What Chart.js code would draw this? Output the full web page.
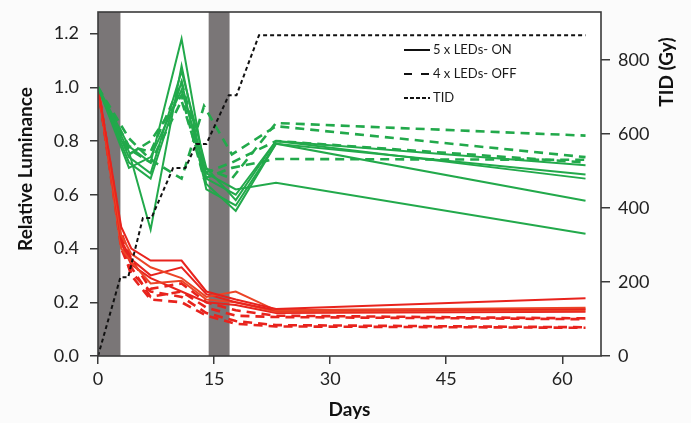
<!DOCTYPE html>
<html>
<head>
<meta charset="utf-8">
<script src="https://cdn.jsdelivr.net/npm/chart.js@4.4.1/dist/chart.umd.min.js"></script>
<style>
  html, body { margin: 0; padding: 0; background: #fbfbfb; }
  #wrap { width: 691px; height: 423px; position: relative; }
</style>
</head>
<body>
<div id="wrap"><canvas id="chart"></canvas></div>
<script>
// measurement days
const greenOnDays = [0, 4, 6.8, 10.8, 14, 17.8, 23, 63];
const greenOffDays = [0, 4, 6.8, 10.8, 13.7, 17.3, 23, 63];
const redDays = [0, 3, 4.3, 6.8, 10.8, 14, 17.8, 23, 63];

// green, 5 x LEDs ON (solid)
const greenOn1 = [1.0, 0.78, 0.72, 1.18, 0.66, 0.60, 0.80, 0.71];
const greenOn2 = [1.0, 0.76, 0.47, 1.08, 0.64, 0.54, 0.79, 0.675];
const greenOn3 = [1.0, 0.74, 0.68, 1.06, 0.70, 0.58, 0.80, 0.66];
const greenOn4 = [1.0, 0.72, 0.66, 1.02, 0.62, 0.56, 0.79, 0.578];
const greenOn5 = [1.0, 0.70, 0.74, 0.99, 0.68, 0.62, 0.645, 0.455];

// green, 4 x LEDs OFF (dashed)
const greenOff1 = [1.0, 0.81, 0.73, 0.66, 0.93, 0.75, 0.855, 0.74];
const greenOff2 = [1.0, 0.78, 0.76, 1.02, 0.70, 0.66, 0.867, 0.82];
const greenOff3 = [1.0, 0.75, 0.80, 0.97, 0.66, 0.70, 0.733, 0.73];
const greenOff4 = [1.0, 0.77, 0.72, 0.95, 0.68, 0.72, 0.80, 0.72];

// red, 5 x LEDs ON (solid)
const redOn1 = [1.0, 0.48, 0.40, 0.355, 0.355, 0.24, 0.21, 0.175, 0.215];
const redOn2 = [1.0, 0.45, 0.38, 0.33, 0.29, 0.22, 0.24, 0.17, 0.18];
const redOn3 = [1.0, 0.43, 0.36, 0.30, 0.33, 0.23, 0.20, 0.17, 0.175];
const redOn4 = [1.0, 0.40, 0.35, 0.27, 0.28, 0.21, 0.20, 0.165, 0.17];
const redOn5 = [1.0, 0.42, 0.34, 0.29, 0.24, 0.20, 0.19, 0.16, 0.165];

// red, 4 x LEDs OFF (dashed)
const redOff1 = [1.0, 0.46, 0.36, 0.25, 0.27, 0.20, 0.17, 0.15, 0.14];
const redOff2 = [1.0, 0.44, 0.33, 0.22, 0.24, 0.18, 0.15, 0.145, 0.137];
const redOff3 = [1.0, 0.40, 0.31, 0.24, 0.22, 0.16, 0.13, 0.115, 0.107];
const redOff4 = [1.0, 0.42, 0.30, 0.21, 0.20, 0.15, 0.12, 0.11, 0.105];

// total ionising dose (right axis)
const tidDays = [0, 2.9, 3.9, 5.8, 6.9, 9.7, 11.3, 12.7, 14.0, 16.9, 17.9, 20.8, 63];
const tidValues = [0, 213, 213, 373, 373, 508, 508, 573, 573, 705, 705, 867, 867];

// shaded periods (days)
const bandStarts = [0, 14.3];
const bandEnds = [2.9, 17.0];

// axis ticks
const xTicks = [0, 15, 30, 45, 60];
const lumTicks = [0, 0.2, 0.4, 0.6, 0.8, 1.0, 1.2];
const tidTicks = [0, 200, 400, 600, 800];

const legendLabels = ['5 x LEDs- ON', '4 x LEDs- OFF', 'TID'];

const GREEN = '#22a94b';
const RED = '#e8231d';
const RED2 = '#eb4427';
const FONT = 'Lato, "Open Sans", sans-serif';

function pairs(days, vals) {
  return days.map((d, i) => ({ x: d, y: vals[i] }));
}

function series(days, vals, color, dashed) {
  return {
    data: pairs(days, vals),
    borderColor: color,
    borderWidth: dashed ? 2.6 : 2,
    borderDash: dashed ? [9, 6] : [],
    pointRadius: 0,
    tension: 0,
    fill: false,
    yAxisID: 'y'
  };
}

const datasets = [
  {
    data: pairs(tidDays, tidValues),
    borderColor: '#111',
    borderWidth: 2,
    borderDash: [4, 3],
    pointRadius: 0,
    tension: 0,
    fill: false,
    yAxisID: 'y2'
  },
  series(greenOnDays, greenOn1, GREEN, false),
  series(greenOnDays, greenOn2, GREEN, false),
  series(greenOnDays, greenOn3, GREEN, false),
  series(greenOnDays, greenOn4, GREEN, false),
  series(greenOnDays, greenOn5, GREEN, false),
  series(greenOffDays, greenOff1, GREEN, true),
  series(greenOffDays, greenOff2, GREEN, true),
  series(greenOffDays, greenOff3, GREEN, true),
  series(greenOffDays, greenOff4, GREEN, true),
  series(redDays, redOn1, RED, false),
  series(redDays, redOn2, RED2, false),
  series(redDays, redOn3, RED, false),
  series(redDays, redOn4, RED2, false),
  series(redDays, redOn5, RED, false),
  series(redDays, redOff1, RED, true),
  series(redDays, redOff2, RED, true),
  series(redDays, redOff3, RED, true),
  series(redDays, redOff4, RED, true)
];

function verticalTitle(ctx, text, x, y) {
  ctx.save();
  ctx.translate(x, y);
  ctx.rotate(-Math.PI / 2);
  ctx.font = 'bold 19px ' + FONT;
  ctx.fillStyle = '#111';
  ctx.textAlign = 'center';
  ctx.textBaseline = 'middle';
  ctx.fillText(text, 0, 0);
  ctx.restore();
}

// white plot area, grey bands, frame, legend and vertical titles
const decor = {
  id: 'decor',
  beforeDraw(chart) {
    const { ctx, chartArea: a } = chart;
    ctx.save();
    ctx.fillStyle = '#ffffff';
    ctx.fillRect(a.left, a.top, a.right - a.left, a.bottom - a.top);
    ctx.restore();
  },
  beforeDatasetsDraw(chart) {
    const { ctx, chartArea: a, scales: { x } } = chart;
    ctx.save();
    ctx.fillStyle = '#7a7677';
    bandStarts.forEach((s, i) => {
      const x0 = x.getPixelForValue(s);
      const x1 = x.getPixelForValue(bandEnds[i]);
      ctx.fillRect(x0, a.top, x1 - x0, a.bottom - a.top);
    });
    ctx.restore();
  },
  afterDatasetsDraw(chart) {
    const { ctx, chartArea: a } = chart;
    ctx.save();
    ctx.strokeStyle = '#3a3a3a';
    ctx.lineWidth = 1.6;
    ctx.strokeRect(a.left, a.top, a.right - a.left, a.bottom - a.top);

    // legend
    const lx = 404, tx = 433;
    const ys = [50, 74, 98];
    const dashes = [[], [8, 9], [4, 2]];
    ctx.strokeStyle = '#111';
    ctx.lineWidth = 2;
    ctx.font = '13px ' + FONT;
    ctx.fillStyle = '#1a1a1a';
    ctx.textBaseline = 'middle';
    legendLabels.forEach((lab, i) => {
      ctx.setLineDash(dashes[i]);
      ctx.beginPath();
      ctx.moveTo(lx, ys[i]);
      ctx.lineTo(tx - 3, ys[i]);
      ctx.stroke();
      ctx.fillText(lab, tx, ys[i]);
    });
    ctx.setLineDash([]);
    ctx.restore();

    verticalTitle(ctx, 'Relative Luminance', 26, 169);
    verticalTitle(ctx, 'TID (Gy)', 667, 72);
  }
};

const tickFont = { family: FONT, size: 18 };
const titleFont = { family: FONT, size: 19, weight: 'bold' };

new Chart(document.getElementById('chart'), {
  type: 'line',
  data: { datasets: datasets },
  options: {
    responsive: true,
    maintainAspectRatio: false,
    animation: false,
    layout: { padding: { top: 12, left: 0, right: 0, bottom: 0 } },
    plugins: { legend: { display: false }, tooltip: { enabled: false } },
    scales: {
      x: {
        type: 'linear',
        min: 0,
        max: 65,
        afterBuildTicks: s => { s.ticks = xTicks.map(v => ({ value: v })); },
        afterFit: s => { s.height = 67; s.paddingLeft = 0; s.paddingRight = 0; },
        grid: { drawOnChartArea: false, drawTicks: true, tickLength: 8, color: '#3a3a3a', lineWidth: 1.5 },
        border: { display: false },
        ticks: { font: tickFont, color: '#222', padding: 4, maxRotation: 0 },
        title: { display: true, text: 'Days', font: titleFont, color: '#111', padding: { top: 0, bottom: 2 } }
      },
      y: {
        position: 'left',
        min: 0,
        max: 1.28,
        afterBuildTicks: s => { s.ticks = lumTicks.map(v => ({ value: v })); },
        afterFit: s => { s.width = 98; s.paddingTop = 0; s.paddingBottom = 0; },
        grid: { drawOnChartArea: false, drawTicks: true, tickLength: 8, color: '#3a3a3a', lineWidth: 1.5 },
        border: { display: false },
        ticks: { font: tickFont, color: '#222', padding: 11, callback: v => v.toFixed(1) },
        title: { display: false }
      },
      y2: {
        position: 'right',
        min: 0,
        max: 930,
        afterBuildTicks: s => { s.ticks = tidTicks.map(v => ({ value: v })); },
        afterFit: s => { s.width = 90; s.paddingTop = 0; s.paddingBottom = 0; },
        grid: { drawOnChartArea: false, drawTicks: true, tickLength: 9, color: '#3a3a3a', lineWidth: 1.5 },
        border: { display: false },
        ticks: { font: tickFont, color: '#222', padding: 8 }
      }
    }
  },
  plugins: [decor]
});
</script>
</body>
</html>
